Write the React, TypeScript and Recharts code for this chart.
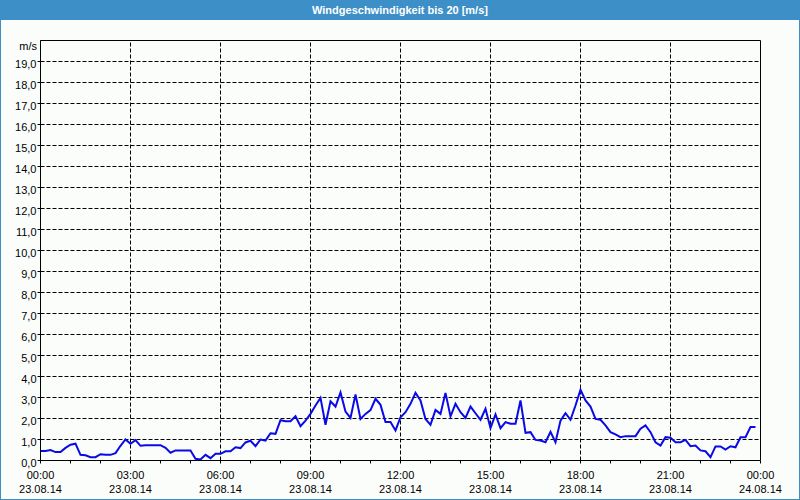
import { LineChart, Line, XAxis, YAxis, CartesianGrid, ReferenceLine } from "recharts";

// Windgeschwindigkeit 23.08.14, Messwerte alle 10 Minuten (m/s)
const speeds = [
  0.45, 0.45, 0.5, 0.4, 0.4, 0.6, 0.75, 0.8, 0.27, 0.25, 0.16, 0.16,
  0.3, 0.27, 0.27, 0.35, 0.7, 1.0, 0.8, 0.97, 0.7, 0.73, 0.73, 0.73,
  0.73, 0.6, 0.37, 0.48, 0.48, 0.48, 0.48, 0.08, 0.05, 0.27, 0.11, 0.32,
  0.32, 0.44, 0.44, 0.63, 0.59, 0.86, 0.94, 0.68, 1.0, 0.95, 1.3, 1.27,
  1.92, 1.87, 1.87, 2.11, 1.63, 1.9, 2.22, 2.62, 2.98, 1.7, 2.82, 2.57,
  3.24, 2.33, 2.03, 3.14, 1.98, 2.22, 2.4, 2.94, 2.65, 1.83, 1.83, 1.43,
  2.06, 2.3, 2.7, 3.22, 2.86, 1.98, 1.7, 2.41, 2.22, 3.22, 2.1, 2.7,
  2.3, 2.03, 2.57, 2.25, 1.94, 2.46, 1.54, 2.19, 1.54, 1.83, 1.75, 1.75,
  2.86, 1.32, 1.35, 0.98, 0.95, 0.87, 1.37, 0.87, 1.9, 2.25, 1.94, 2.62,
  3.37, 2.86, 2.57, 1.98, 1.94, 1.67, 1.35, 1.24, 1.11, 1.16, 1.16, 1.16,
  1.51, 1.67, 1.35, 0.87, 0.71, 1.11, 1.08, 0.87, 0.87, 0.98, 0.68, 0.71,
  0.48, 0.44, 0.16, 0.67, 0.67, 0.52, 0.68, 0.63, 1.11, 1.11, 1.59, 1.59,
];

const hourTicks = [0, 1, 2, 3, 4, 5, 6, 7, 8, 9, 10, 11, 12, 13, 14, 15, 16, 17, 18, 19, 20, 21, 22, 23, 24];
const majorHours = [0, 3, 6, 9, 12, 15, 18, 21, 24];
const timeLabels = ["00:00", "03:00", "06:00", "09:00", "12:00", "15:00", "18:00", "21:00", "00:00"];
const dateLabels = ["23.08.14", "23.08.14", "23.08.14", "23.08.14", "23.08.14", "23.08.14", "23.08.14", "23.08.14", "24.08.14"];
const yTicks = [0, 1, 2, 3, 4, 5, 6, 7, 8, 9, 10, 11, 12, 13, 14, 15, 16, 17, 18, 19];

const data = speeds.map((v, i) => ({ t: i / 6, v }));

const FONT = '"Liberation Sans", Arial, sans-serif';
const BLUE = "#3d90c7";
const DASH = "4 2";

function XTick(props: any) {
  const { x, y, payload } = props;
  const idx = majorHours.indexOf(payload.value);
  if (idx < 0) return <g />;
  return (
    <g>
      <text x={x} y={y + 15} textAnchor="middle" fontSize={11} fontFamily={FONT} fill="#000">
        {timeLabels[idx]}
      </text>
      <text x={x} y={y + 29} textAnchor="middle" fontSize={11} fontFamily={FONT} fill="#000">
        {dateLabels[idx]}
      </text>
    </g>
  );
}

function YTick(props: any) {
  const { x, y, payload } = props;
  return (
    <text x={x} y={y + 6} textAnchor="end" fontSize={11} fontFamily={FONT} fill="#000">
      {payload.value.toFixed(1).replace(".", ",")}
    </text>
  );
}

export default function App() {
  return (
    <div style={{ position: "relative", width: 800, height: 500, background: "#fbfdfb", overflow: "hidden" }}>
      <style>{`body{margin:0}`}</style>
      <div
        style={{
          position: "absolute",
          left: 0,
          top: 0,
          width: 800,
          height: 20,
          background: BLUE,
          color: "#fff",
          fontFamily: FONT,
          fontWeight: "bold",
          fontSize: 11,
          lineHeight: "20px",
          textAlign: "center",
        }}
      >
        Windgeschwindigkeit bis 20 [m/s]
      </div>
      <div
        style={{
          position: "absolute",
          left: 0,
          top: 40,
          width: 37,
          textAlign: "right",
          fontFamily: FONT,
          fontSize: 11,
          lineHeight: "13px",
        }}
      >
        m/s
      </div>
      <div style={{ position: "absolute", left: 0, top: 0 }}>
        {/* half-pixel offsets keep the 1px lines crisp */}
        <LineChart width={800} height={500} data={data} margin={{ top: 40.5, right: 39.5, bottom: 0, left: 0.5 }}>
          <CartesianGrid vertical={false} stroke="#000" strokeDasharray={DASH} />
          <XAxis
            dataKey="t"
            type="number"
            domain={[0, 24]}
            ticks={hourTicks}
            interval={0}
            height={39.5}
            tickSize={3}
            tickMargin={0}
            tickLine={{ stroke: "#000" }}
            axisLine={{ stroke: "#000" }}
            tick={<XTick />}
          />
          <YAxis
            type="number"
            domain={[0, 20]}
            ticks={yTicks}
            interval={0}
            width={40}
            tickSize={3}
            tickMargin={1}
            tickLine={{ stroke: "#000" }}
            axisLine={{ stroke: "#000" }}
            tick={<YTick />}
          />
          {majorHours.slice(1, -1).map((h) => (
            <ReferenceLine key={h} x={h} stroke="#000" strokeDasharray={DASH} />
          ))}
          <ReferenceLine x={24} stroke="#000" />
          <ReferenceLine y={20} stroke="#000" />
          <Line
            dataKey="v"
            type="linear"
            stroke="#0a0ae6"
            strokeWidth={2}
            dot={false}
            isAnimationActive={false}
          />
        </LineChart>
      </div>
      <div
        style={{
          position: "absolute",
          left: 0,
          top: 0,
          width: 800,
          height: 500,
          boxSizing: "border-box",
          border: `1px solid ${BLUE}`,
          pointerEvents: "none",
        }}
      />
    </div>
  );
}
